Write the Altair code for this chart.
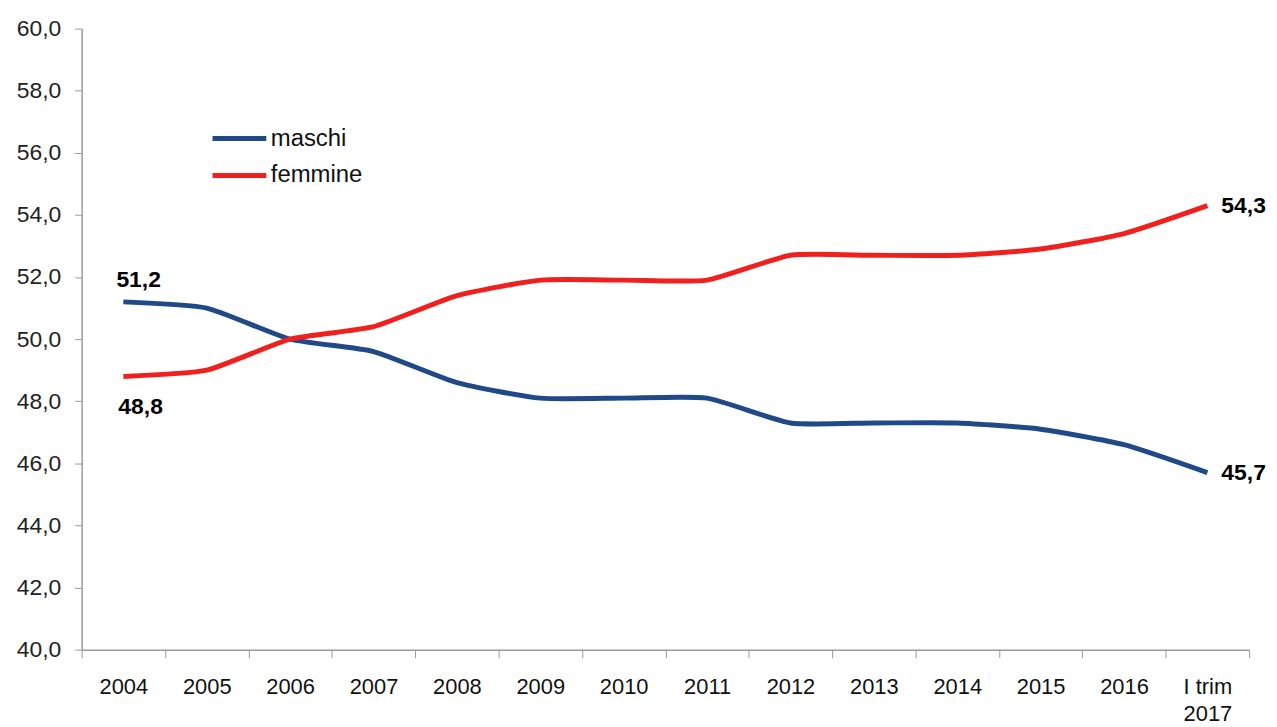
import altair as alt
import pandas as pd

periods = ["2004", "2005", "2006", "2007", "2008", "2009", "2010", "2011",
           "2012", "2013", "2014", "2015", "2016", "I trim 2017"]
maschi = [51.2, 51.0, 50.0, 49.6, 48.6, 48.1, 48.1, 48.1, 47.3, 47.3, 47.3, 47.1, 46.6, 45.7]
femmine = [48.8, 49.0, 50.0, 50.4, 51.4, 51.9, 51.9, 51.9, 52.7, 52.7, 52.7, 52.9, 53.4, 54.3]
series = ["maschi", "femmine"]
colors = ["#1F4A87", "#F0201E"]

rows = []
for i, p in enumerate(periods):
    rows.append({"periodo": p, "serie": "maschi", "valore": maschi[i]})
    rows.append({"periodo": p, "serie": "femmine", "valore": femmine[i]})
df = pd.DataFrame(rows)
df["lab"] = df["valore"].map(lambda v: f"{v:.1f}".replace(".", ","))

FONT = "Liberation Sans"

x = alt.X("periodo:N", sort=periods, title=None,
          scale=alt.Scale(paddingInner=0, paddingOuter=0),
          axis=alt.Axis(labelAngle=0, labelFont=FONT, labelFontSize=22, labelColor="#111111",
                        labelPadding=29, labelLineHeight=27, tickBand="extent",
                        tickSize=8, tickColor="#9a9a9a", domainColor="#9a9a9a",
                        domainWidth=1.5, labelBaseline="middle",
                        labelExpr="datum.label == 'I trim 2017' ? ['I trim', '2017'] : datum.label"))
y = alt.Y("valore:Q", title=None,
          scale=alt.Scale(domain=[40, 60], nice=False, zero=False),
          axis=alt.Axis(values=[40, 42, 44, 46, 48, 50, 52, 54, 56, 58, 60], grid=False,
                        labelFont=FONT, labelFontSize=23, labelColor="#222222",
                        labelPadding=14, tickSize=7, tickColor="#9a9a9a",
                        domainColor="#9a9a9a", domainWidth=1.5,
                        labelExpr="replace(format(datum.value, '.1f'), '.', ',')"))

color = alt.Color("serie:N", sort=series,
                  scale=alt.Scale(domain=series, range=colors),
                  legend=alt.Legend(title=None, orient="none", legendX=129, legendY=92,
                                    symbolType="stroke", symbolSize=2916,
                                    symbolStrokeWidth=5, clipHeight=37, rowPadding=0,
                                    labelFont=FONT, labelFontSize=24, labelColor="#111111",
                                    labelOffset=2, padding=0))

base = alt.Chart(df)
lines = base.mark_line(strokeWidth=5, interpolate="cardinal", tension=0.45).encode(
    x=x, y=y, color=color)

txt = dict(font=FONT, fontSize=23, fontWeight="bold", color="#000000", baseline="middle")
lab_m0 = base.transform_filter(
    (alt.datum.periodo == periods[0]) & (alt.datum.serie == "maschi")
).mark_text(align="left", dx=-7, dy=-22, **txt).encode(x=x, y=y, text="lab:N")
lab_f0 = base.transform_filter(
    (alt.datum.periodo == periods[0]) & (alt.datum.serie == "femmine")
).mark_text(align="left", dx=-5, dy=31, **txt).encode(x=x, y=y, text="lab:N")
lab_end = base.transform_filter(
    alt.datum.periodo == periods[-1]
).mark_text(align="left", dx=14, dy=0, **txt).encode(x=x, y=y, text="lab:N")

chart = alt.layer(lines, lab_m0, lab_f0, lab_end).properties(
    width=1173, height=624,
    autosize=alt.AutoSizeParams(type="none"),
    padding={"left": 74, "top": 19, "right": 20, "bottom": 74},
).configure(background="white").configure_view(stroke=None)

chart.save("out.html", embed_options={"renderer": "svg", "actions": False})
